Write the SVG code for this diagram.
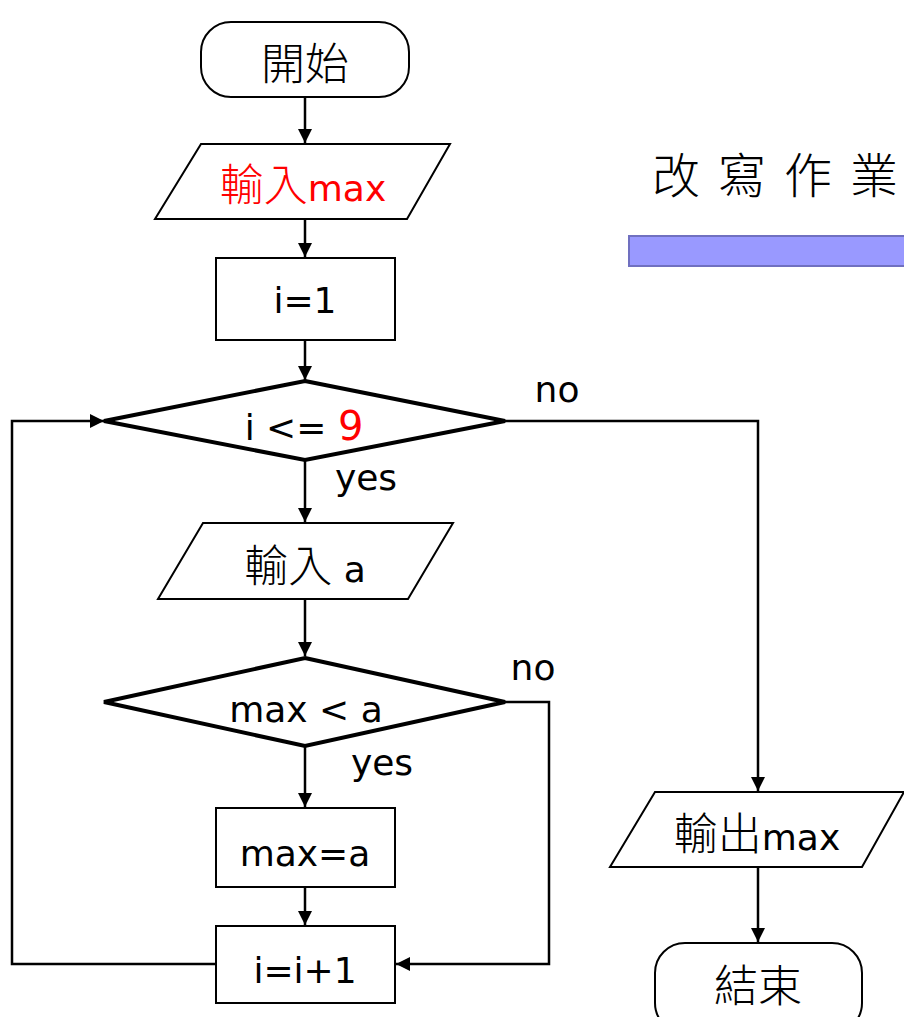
<svg xmlns="http://www.w3.org/2000/svg" width="904" height="1017" viewBox="0 0 904 1017">
<style>
.s{fill:#fff;stroke:#000;stroke-width:2}
.d{fill:#fff;stroke:#000;stroke-width:4;stroke-linejoin:miter}
.c{fill:none;stroke:#000;stroke-width:2.5}
.t{font-family:"DejaVu Sans","Noto Sans CJK TC",sans-serif;font-size:36px;fill:#000;text-anchor:middle}
.k{font-family:"Noto Sans CJK TC",sans-serif;font-weight:300}
.r{fill:#ff0000}
.k44{font-size:44px}
.k40{font-size:40px}
</style>
<defs>
<marker id="a" viewBox="0 0 10 10" refX="10" refY="5" markerWidth="14" markerHeight="14" markerUnits="userSpaceOnUse" orient="auto">
<path d="M0,0 L10,5 L0,10 z" fill="#000"/>
</marker>
</defs>
<g id="connectors">
<path class="c" d="M305,97 V143" marker-end="url(#a)"/>
<path class="c" d="M305,219 V257" marker-end="url(#a)"/>
<path class="c" d="M305,340 V380" marker-end="url(#a)"/>
<path class="c" d="M305,460 V522" marker-end="url(#a)"/>
<path class="c" d="M305,599 V656" marker-end="url(#a)"/>
<path class="c" d="M305,746 V807" marker-end="url(#a)"/>
<path class="c" d="M305,887 V925" marker-end="url(#a)"/>
<path class="c" d="M505,702 H549 V964 H396" marker-end="url(#a)"/>
<path class="c" d="M216,964 H12 V421 H104" marker-end="url(#a)"/>
<path class="c" d="M505,421 H758 V791" marker-end="url(#a)"/>
<path class="c" d="M758,867 V942" marker-end="url(#a)"/>
<text class="t" x="557" y="402">no</text>
<text class="t" x="366" y="490">yes</text>
<text class="t" x="533" y="680">no</text>
<text class="t" x="382" y="775">yes</text>
</g>
<g id="start">
<rect class="s" x="201" y="22" width="208" height="75" rx="30"/>
<text class="t k k44" x="305" y="80">開始</text>
</g>
<g id="input-max">
<polygon class="s" points="201,144 450,144 407,219 155,219"/>
<text class="t r" x="303" y="201"><tspan class="k k44">輸入</tspan>max</text>
</g>
<g id="init">
<rect class="s" x="216" y="258" width="179" height="82"/>
<text class="t" x="305" y="313">i=1</text>
</g>
<g id="cond1">
<polygon class="d" points="305,381 505,421 305,460 104,421"/>
<text class="t" x="304" y="440">i &lt;= <tspan class="r k40">9</tspan></text>
</g>
<g id="input-a">
<polygon class="s" points="203,523 453,523 408,599 158,599"/>
<text class="t" x="305" y="582"><tspan class="k k44">輸入</tspan> a</text>
</g>
<g id="cond2">
<polygon class="d" points="305,658 505,702 305,746 104,702"/>
<text class="t" x="306" y="722">max &lt; a</text>
</g>
<g id="assign">
<rect class="s" x="216" y="808" width="179" height="79"/>
<text class="t" x="305" y="866">max=a</text>
</g>
<g id="incr">
<rect class="s" x="216" y="926" width="179" height="77"/>
<text class="t" x="305" y="983">i=i+1</text>
</g>
<g id="output">
<polygon class="s" points="655,792 904,792 862,867 610,867"/>
<text class="t" x="757" y="850"><tspan class="k k44">輸出</tspan>max</text>
</g>
<g id="end">
<rect class="s" x="655" y="943" width="207" height="90" rx="30"/>
<text class="t k k44" x="758" y="1002">結束</text>
</g>
<g id="title">
<text x="652 718 784 850" y="193" font-family="Noto Sans CJK TC,sans-serif" font-weight="300" font-size="48" fill="#000">改寫作業</text>
<rect x="629" y="236" width="280" height="30" fill="#9999ff" stroke="#7070c0" stroke-width="2"/>
</g>
</svg>
